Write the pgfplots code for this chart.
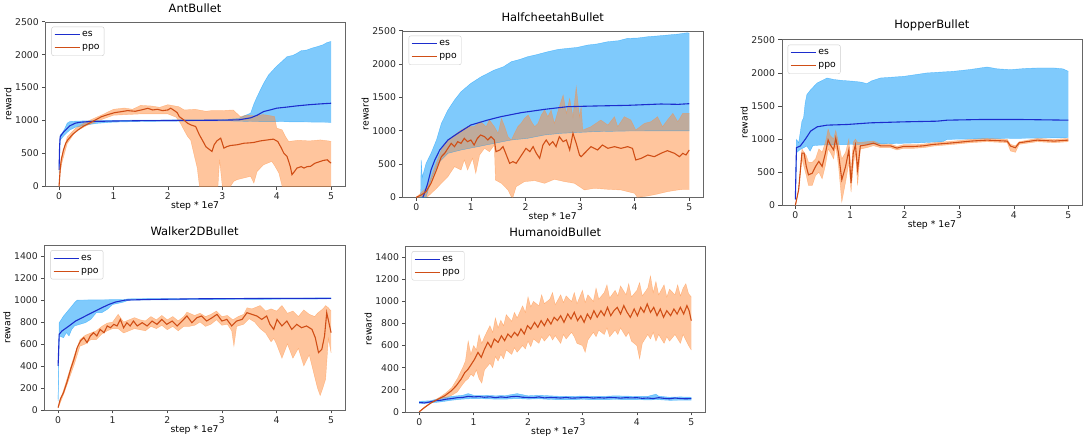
\documentclass[border=0pt]{standalone}
\usepackage{pgfplots}
\pgfplotsset{compat=1.18}
\usepgfplotslibrary{fillbetween}
\usepackage{fontspec}
\setmainfont{DejaVu Sans}
\definecolor{esline}{RGB}{28,45,205}
\definecolor{ppoline}{RGB}{208,78,22}
\definecolor{esfill}{RGB}{0,150,250}
\definecolor{ppofill}{RGB}{255,140,60}
\pgfplotsset{
  myax/.style={
    scale only axis,
    xmin=-0.25, xmax=5.25, ymin=0,
    xtick={0,1,2,3,4,5},
    tick align=outside, tick pos=left,
    major tick length=3.5pt,
    axis line style={black!60},
    every tick/.style={black!70, line width=0.5pt},
    tick label style={font=\fontsize{9.3}{10}\selectfont, text=black!85},
    xticklabel style={inner sep=1pt, yshift=-2pt},
    yticklabel style={inner sep=1pt, xshift=-2pt},
    /pgf/number format/assume math mode=true,
    /pgf/number format/1000 sep={},
    scaled y ticks=false,
    xlabel={step * 1e7}, ylabel={reward},
    xlabel style={font=\fontsize{9.3}{10}\selectfont, at={(axis description cs:0.5,0)}, anchor=center, yshift=-20pt},
    ylabel style={font=\fontsize{9.3}{10}\selectfont, at={(axis description cs:-0.125,0.5)}, anchor=center, rotate=0},
    title style={font=\fontsize{11.5}{13}\selectfont, at={(axis description cs:0.5,1)}, anchor=center, yshift=8pt},
    legend style={at={(0.02,0.97)}, anchor=north west, draw=black!20, rounded corners=2pt,
      font=\fontsize{9.3}{10}\selectfont, row sep=2.5pt, inner sep=2.5pt},
    legend cell align=left,
    legend image code/.code={\draw[#1] (0pt,0pt) -- (20pt,0pt); \path (0pt,0pt) -- (25pt,0pt);},
  },
  esband/.style={draw=esfill, draw opacity=0.5, line width=0.4pt, forget plot},
  ppoband/.style={draw=ppofill, draw opacity=0.5, line width=0.4pt, forget plot},
  esfillst/.style={fill=esfill, fill opacity=0.5, draw=none, forget plot},
  ppofillst/.style={fill=ppofill, fill opacity=0.5, draw=none, forget plot},
  esmean/.style={esline, line width=1.1pt},
  ppomean/.style={ppoline, line width=1.1pt},
}
\newcommand{\oneseven}{\node[anchor=east, font=\fontsize{9.3}{10}\selectfont, inner sep=0pt] at (rel axis cs:1,0) [yshift=-20pt] {1e7};}
\newcommand{\mylegend}{\addlegendimage{esmean}\addlegendentry{es}\addlegendimage{ppomean}\addlegendentry{ppo}}
\begin{document}
\begin{tikzpicture}
\path (0,0) rectangle (1084pt,433pt);

% ---------------- AntBullet
\begin{axis}[myax, at={(43pt,253pt)}, anchor=south west, width=300pt, height=165pt, ymax=2500, title={AntBullet}]
\mylegend
\addplot[esband, name path=aEU] coordinates {(0,300) (0.02,780) (0.05,800) (0.1,870) (0.15,960) (0.2,985) (0.3,990) (0.5,995) (1.0,1003) (2.0,1008) (3.0,1012) (3.3,1030) (3.4,1070) (3.52,1111) (3.58,1250) (3.64,1364) (3.76,1566) (3.85,1692) (3.99,1818) (4.1,1900) (4.19,1970) (4.3,1990) (4.37,2020) (4.45,2060) (4.55,2070) (4.65,2100) (4.74,2121) (4.85,2150) (4.92,2182) (4.98,2197) (5.0,2200)};
\addplot[esband, name path=aEL] coordinates {(0,200) (0.02,700) (0.05,730) (0.1,780) (0.2,857) (0.3,897) (0.5,932) (0.7,957) (1.0,975) (1.5,985) (2.0,990) (3.0,995) (3.3,990) (3.5,985) (4.0,982) (4.5,978) (5.0,972)};
\addplot[esfillst] fill between[of=aEU and aEL];
\addplot[ppoband, name path=aPU] coordinates {(0,0) (0.02,300) (0.05,450) (0.15,750) (0.3,880) (0.5,980) (0.8,1090) (1.0,1170) (1.2,1190) (1.35,1170) (1.5,1230) (1.7,1220) (1.85,1200) (2.0,1240) (2.2,1210) (2.3,1160) (2.5,1170) (2.7,1140) (2.8,1150) (3.0,1150) (3.2,1160) (3.33,1060) (3.45,1080) (3.6,1070) (3.75,1090) (3.9,1070) (3.96,1060) (4.0,884) (4.1,858) (4.16,757) (4.22,682) (4.4,700) (4.6,690) (4.8,705) (4.95,690) (5.0,682)};
\addplot[ppoband, name path=aPL] coordinates {(0,0) (0.02,200) (0.05,350) (0.15,650) (0.3,830) (0.5,920) (0.8,1020) (1.0,1080) (1.5,1100) (2.0,1100) (2.15,1050) (2.23,960) (2.3,850) (2.36,760) (2.42,700) (2.48,485) (2.54,278) (2.58,0) (2.92,0) (2.95,404) (3.0,0) (3.15,0) (3.21,76) (3.27,101) (3.39,126) (3.52,152) (3.58,50) (3.64,227) (3.76,328) (3.91,379) (3.97,303) (4.04,202) (4.10,0) (5.0,0)};
\addplot[ppofillst] fill between[of=aPU and aPL];
\addplot[esmean, forget plot] coordinates {(0,250) (0.01,600) (0.02,750) (0.05,790) (0.1,840) (0.15,880) (0.2,920) (0.3,960) (0.4,975) (0.6,985) (1.0,992) (1.5,997) (2.0,1000) (2.5,1002) (3.0,1005) (3.3,1010) (3.52,1040) (3.64,1080) (3.76,1136) (3.9,1165) (4.0,1187) (4.2,1205) (4.37,1222) (4.6,1240) (4.8,1252) (5.0,1262)};
\addplot[ppomean, forget plot] coordinates {(0,0) (0.02,250) (0.04,400) (0.08,550) (0.12,650) (0.16,705) (0.25,790) (0.35,857) (0.45,915) (0.53,948) (0.65,1000) (0.78,1058) (0.9,1090) (1.02,1119) (1.15,1135) (1.26,1150) (1.4,1140) (1.51,1160) (1.63,1185) (1.72,1160) (1.81,1170) (1.9,1150) (2.0,1160) (2.05,1187) (2.12,1150) (2.17,1120) (2.21,1058) (2.29,1010) (2.36,960) (2.42,934) (2.51,909) (2.58,780) (2.63,707) (2.7,600) (2.81,530) (2.85,630) (2.90,690) (2.97,732) (3.03,580) (3.09,605) (3.15,620) (3.27,631) (3.40,655) (3.5,660) (3.58,667) (3.7,690) (3.83,705) (3.94,717) (4.02,680) (4.07,605) (4.13,505) (4.19,454) (4.25,300) (4.28,177) (4.34,240) (4.37,277) (4.45,300) (4.50,277) (4.56,300) (4.62,303) (4.70,350) (4.80,378) (4.86,394) (4.93,403) (4.97,370) (5.0,353)};
\oneseven
\end{axis}

% ---------------- HalfcheetahBullet
\begin{axis}[myax, at={(401pt,242pt)}, anchor=south west, width=301pt, height=167pt, ymax=2500, title={HalfcheetahBullet}]
\mylegend
\addplot[esband, name path=hEU] coordinates {(0.08,0) (0.09,560) (0.11,300) (0.18,510) (0.27,660) (0.37,860) (0.46,1110) (0.58,1310) (0.70,1460) (0.82,1585) (1.0,1710) (1.19,1810) (1.43,1910) (1.6,1960) (1.74,2035) (1.9,2070) (2.04,2110) (2.2,2140) (2.41,2185) (2.6,2220) (2.77,2235) (2.95,2250) (3.14,2285) (3.3,2300) (3.51,2335) (3.7,2350) (3.87,2385) (4.05,2390) (4.24,2410) (4.4,2420) (4.6,2435) (4.8,2450) (4.97,2470) (5.0,2460)};
\addplot[esband, name path=hEL] coordinates {(0.08,0) (0.18,0) (0.27,260) (0.4,510) (0.58,660) (0.82,710) (1.13,760) (1.43,810) (1.74,860) (2.04,885) (2.35,935) (2.65,960) (3.26,985) (3.87,995) (5.0,998)};
\addplot[esfillst] fill between[of=hEU and hEL];
\addplot[ppoband, name path=hPU] coordinates {(0,0) (0.21,160) (0.34,460) (0.46,710) (0.58,860) (0.70,935) (0.82,1010) (0.94,1060) (1.06,1060) (1.18,1135) (1.28,1060) (1.34,1160) (1.43,1060) (1.5,960) (1.56,1185) (1.62,1060) (1.68,910) (1.74,860) (1.8,960) (1.86,1060) (1.92,1110) (1.98,1185) (2.05,1235) (2.11,1135) (2.17,1060) (2.23,1110) (2.29,1235) (2.35,1310) (2.41,1210) (2.47,1310) (2.53,1110) (2.62,1360) (2.69,1535) (2.75,1260) (2.81,1485) (2.87,1210) (2.93,1660) (2.99,1210) (3.02,1360) (3.05,1010) (3.2,1060) (3.38,1160) (3.51,1085) (3.63,1210) (3.69,1060) (3.81,1210) (3.93,1160) (4.02,1010) (4.18,1110) (4.3,1135) (4.42,1210) (4.51,1060) (4.6,1160) (4.7,1260) (4.79,1135) (4.88,1260) (5.0,1260)};
\addplot[ppoband, name path=hPL] coordinates {(0,0) (0.21,10) (0.34,110) (0.46,210) (0.58,310) (0.7,460) (0.82,410) (0.88,560) (0.94,410) (1.03,585) (1.09,360) (1.16,635) (1.25,735) (1.34,685) (1.43,785) (1.45,260) (1.56,210) (1.68,110) (1.74,10) (1.77,0) (1.83,160) (1.98,235) (2.17,250) (2.35,210) (2.53,270) (2.72,235) (2.9,210) (2.99,160) (3.08,110) (3.26,135) (3.51,120) (3.75,110) (4.0,60) (4.05,0) (4.24,20) (4.42,50) (4.6,85) (4.79,110) (4.91,120) (5.0,120)};
\addplot[ppofillst] fill between[of=hPU and hPL];
\addplot[esmean, forget plot] coordinates {(0.12,0) (0.15,60) (0.21,210) (0.27,410) (0.34,560) (0.43,710) (0.58,860) (0.76,960) (1.0,1085) (1.31,1160) (1.55,1210) (1.92,1270) (2.35,1320) (2.77,1360) (3.26,1370) (3.87,1380) (4.48,1400) (4.8,1395) (5.0,1405)};
\addplot[ppomean, forget plot] coordinates {(0,0) (0.09,35) (0.18,85) (0.27,210) (0.37,410) (0.46,610) (0.52,660) (0.58,735) (0.64,810) (0.70,760) (0.76,835) (0.82,810) (0.88,885) (0.94,835) (1.0,860) (1.06,785) (1.12,885) (1.18,935) (1.25,910) (1.31,860) (1.37,910) (1.43,860) (1.46,685) (1.53,710) (1.59,760) (1.65,635) (1.71,510) (1.77,535) (1.83,510) (1.89,585) (1.95,660) (2.01,735) (2.08,685) (2.14,760) (2.2,660) (2.26,585) (2.32,785) (2.38,860) (2.44,785) (2.5,835) (2.56,760) (2.62,910) (2.69,835) (2.75,860) (2.81,710) (2.87,960) (2.93,810) (2.99,635) (3.02,610) (3.08,660) (3.2,760) (3.32,710) (3.41,785) (3.51,735) (3.63,760) (3.75,735) (3.87,760) (3.96,735) (4.02,560) (4.12,585) (4.24,635) (4.36,610) (4.48,660) (4.6,700) (4.73,660) (4.82,610) (4.88,660) (4.94,635) (5.0,710)};
\oneseven
\end{axis}

% ---------------- HopperBullet
\begin{axis}[myax, at={(781pt,234pt)}, anchor=south west, width=301pt, height=166pt, ymax=2500, title={HopperBullet}]
\mylegend
\addplot[esband, name path=pEU] coordinates {(0,100) (0.02,995) (0.06,945) (0.12,1270) (0.15,1320) (0.18,1546) (0.21,1670) (0.28,1745) (0.4,1847) (0.58,1922) (0.7,1900) (0.83,1887) (1.07,1872) (1.2,1860) (1.31,1837) (1.4,1880) (1.56,1922) (1.99,1947) (2.41,1998) (2.9,2023) (3.2,2050) (3.51,2088) (3.7,2060) (3.94,2048) (4.2,2065) (4.43,2073) (4.74,2073) (4.9,2060) (5.0,2023)};
\addplot[esband, name path=pEL] coordinates {(0,80) (0.02,793) (0.09,843) (0.21,894) (0.27,818) (0.32,900) (0.46,909) (1.07,919) (1.68,929) (2.29,944) (2.7,960) (2.78,995) (3.51,1005) (5.0,1020)};
\addplot[esfillst] fill between[of=pEU and pEL];
\addplot[ppoband, name path=pPU] coordinates {(0,0) (0.06,235) (0.12,850) (0.2,750) (0.24,650) (0.31,650) (0.37,700) (0.43,850) (0.49,800) (0.55,950) (0.6,1150) (0.64,1050) (0.7,1000) (0.74,1130) (0.79,950) (0.85,700) (0.92,800) (0.98,1000) (1.02,500) (1.06,950) (1.1,1000) (1.14,950) (1.19,950) (1.31,960) (1.43,970) (1.56,925) (1.74,925) (1.86,890) (1.98,915) (2.17,915) (2.35,925) (2.54,945) (2.9,970) (3.21,995) (3.51,1010) (3.88,995) (3.94,920) (4.03,900) (4.1,960) (4.43,1010) (4.74,995) (5.0,1010)};
\addplot[ppoband, name path=pPL] coordinates {(0,0) (0.06,235) (0.12,700) (0.2,450) (0.24,300) (0.31,300) (0.37,450) (0.43,500) (0.49,400) (0.55,600) (0.6,850) (0.64,800) (0.7,700) (0.74,900) (0.79,600) (0.85,50) (0.92,350) (0.98,650) (1.02,200) (1.06,600) (1.1,800) (1.14,300) (1.19,850) (1.31,870) (1.43,900) (1.56,870) (1.74,870) (1.86,835) (1.98,860) (2.17,860) (2.35,870) (2.54,895) (2.9,920) (3.21,945) (3.51,960) (3.88,945) (3.94,820) (4.03,800) (4.1,920) (4.43,960) (4.74,945) (5.0,960)};
\addplot[ppofillst] fill between[of=pPU and pPL];
\addplot[esmean, forget plot] coordinates {(0,90) (0.02,870) (0.09,895) (0.18,995) (0.28,1120) (0.4,1185) (0.58,1210) (0.95,1220) (1.38,1245) (1.99,1260) (2.6,1270) (2.78,1285) (3.39,1295) (4.13,1295) (5.0,1285)};
\addplot[ppomean, forget plot] coordinates {(0,0) (0.06,235) (0.12,787) (0.16,787) (0.2,587) (0.24,460) (0.31,485) (0.37,587) (0.43,662) (0.49,587) (0.55,787) (0.6,988) (0.64,913) (0.7,838) (0.74,1014) (0.79,787) (0.85,385) (0.92,587) (0.98,838) (1.02,335) (1.06,787) (1.1,913) (1.14,536) (1.19,898) (1.31,913) (1.43,938) (1.56,898) (1.74,898) (1.86,863) (1.98,888) (2.17,888) (2.35,898) (2.47,913) (2.54,920) (2.9,944) (3.21,969) (3.51,984) (3.88,969) (3.94,894) (4.03,869) (4.1,944) (4.43,984) (4.74,969) (5.0,984)};
\oneseven
\end{axis}

% ---------------- Walker2DBullet
\begin{axis}[myax, at={(42pt,29pt)}, anchor=south west, width=301pt, height=165pt, ymax=1500, ytick={0,200,400,600,800,1000,1200,1400}, title={Walker2DBullet}]
\mylegend
\addplot[esband, name path=wEU] coordinates {(0,100) (0.02,794) (0.1,855) (0.2,915) (0.3,976) (0.35,1000) (1.2,1005) (1.3,1012) (5.0,1020)};
\addplot[esband, name path=wEL] coordinates {(0,80) (0.02,673) (0.1,657) (0.15,703) (0.2,673) (0.25,733) (0.3,764) (0.4,779) (0.5,794) (0.6,824) (0.7,885) (0.8,885) (0.9,915) (1.0,960) (1.1,970) (1.2,982) (1.3,1000) (5.0,1010)};
\addplot[esfillst] fill between[of=wEU and wEL];
\addplot[ppoband, name path=wPU] coordinates {(0,25) (0.1,180) (0.2,340) (0.3,500) (0.4,640) (0.5,680) (0.6,700) (0.7,720) (0.8,760) (0.9,790) (1.0,800) (1.1,870) (1.2,800) (1.3,820) (1.4,840) (1.5,820) (1.6,810) (1.7,850) (1.8,820) (1.9,860) (2.0,820) (2.1,850) (2.2,810) (2.3,850) (2.36,890) (2.5,860) (2.6,880) (2.7,850) (2.8,870) (2.9,900) (3.0,850) (3.1,860) (3.2,820) (3.3,850) (3.4,870) (3.46,930) (3.55,920) (3.7,950) (3.8,900) (3.9,920) (4.0,900) (4.1,950) (4.2,880) (4.3,900) (4.4,850) (4.5,910) (4.6,870) (4.7,850) (4.75,880) (4.8,900) (4.85,920) (4.9,950) (4.95,930) (5.0,900)};
\addplot[ppoband, name path=wPL] coordinates {(0,15) (0.1,140) (0.2,280) (0.3,420) (0.4,580) (0.5,600) (0.6,640) (0.7,640) (0.8,690) (0.9,720) (1.0,740) (1.1,740) (1.2,700) (1.3,720) (1.4,740) (1.5,730) (1.6,720) (1.7,760) (1.8,740) (1.9,770) (2.0,730) (2.1,760) (2.2,720) (2.3,760) (2.4,760) (2.5,770) (2.6,800) (2.7,760) (2.8,780) (2.9,820) (3.0,770) (3.1,780) (3.18,720) (3.22,580) (3.27,760) (3.4,780) (3.5,830) (3.6,800) (3.7,740) (3.8,700) (3.9,620) (3.95,650) (4.0,600) (4.1,470) (4.2,600) (4.3,470) (4.4,560) (4.5,400) (4.6,500) (4.7,300) (4.75,200) (4.8,130) (4.85,200) (4.9,280) (4.95,650) (5.0,520)};
\addplot[ppofillst] fill between[of=wPU and wPL];
\addplot[esmean, forget plot] coordinates {(0,400) (0.02,688) (0.07,718) (0.2,764) (0.32,809) (0.44,839) (0.56,870) (0.68,900) (0.8,930) (0.93,960) (1.05,982) (1.23,1000) (1.72,1006) (2.63,1012) (3.85,1015) (5.0,1015)};
\addplot[ppomean, forget plot] coordinates {(0,20) (0.04,97) (0.1,158) (0.16,248) (0.23,370) (0.29,460) (0.35,567) (0.41,627) (0.47,658) (0.53,612) (0.59,673) (0.65,703) (0.71,673) (0.77,733) (0.84,703) (0.9,764) (0.96,748) (1.02,779) (1.08,764) (1.14,824) (1.2,748) (1.26,794) (1.32,764) (1.38,809) (1.45,764) (1.54,794) (1.63,764) (1.72,809) (1.81,779) (1.9,824) (1.99,779) (2.09,809) (2.18,764) (2.27,809) (2.36,855) (2.45,794) (2.54,839) (2.63,855) (2.72,809) (2.82,839) (2.91,870) (3.0,809) (3.09,824) (3.18,764) (3.27,809) (3.37,824) (3.46,885) (3.55,870) (3.64,855) (3.73,824) (3.82,855) (3.88,779) (3.95,733) (4.01,824) (4.1,764) (4.19,809) (4.28,733) (4.37,779) (4.46,748) (4.55,764) (4.65,733) (4.71,658) (4.77,521) (4.83,551) (4.88,673) (4.92,885) (4.96,794) (5.0,703)};
\oneseven
\end{axis}

% ---------------- HumanoidBullet
\begin{axis}[myax, at={(404pt,27pt)}, anchor=south west, width=300pt, height=166pt, ymax=1500, ytick={0,200,400,600,800,1000,1200,1400}, title={HumanoidBullet}]
\mylegend
\addplot[esband, name path=uEU] coordinates {(0,95) (0.2,100) (0.4,125) (0.6,140) (0.8,150) (0.9,165) (1.0,150) (1.2,150) (1.4,145) (1.6,148) (1.8,165) (2.0,145) (2.2,150) (2.4,145) (2.6,140) (2.8,140) (3.0,142) (3.2,140) (3.4,140) (3.6,145) (3.8,142) (4.0,140) (4.2,140) (4.35,160) (4.4,142) (4.6,132) (4.8,135) (5.0,132)};
\addplot[esband, name path=uEL] coordinates {(0,75) (0.2,80) (0.4,90) (0.6,105) (0.8,115) (1.0,120) (1.2,118) (1.4,115) (1.6,115) (1.8,120) (2.0,115) (2.2,118) (2.4,112) (2.6,110) (2.8,110) (3.0,112) (3.2,110) (3.4,110) (3.6,112) (3.8,110) (4.0,110) (4.2,108) (4.4,110) (4.6,104) (4.8,105) (5.0,106)};
\addplot[esfillst] fill between[of=uEU and uEL];
\addplot[ppoband, name path=uPU] coordinates {(0,0) (0.1,45) (0.2,80) (0.3,110) (0.4,140) (0.5,175) (0.6,220) (0.7,300) (0.8,400) (0.85,460) (0.9,640) (0.95,520) (1.0,600) (1.05,560) (1.1,700) (1.15,620) (1.2,680) (1.3,780) (1.35,720) (1.4,850) (1.45,760) (1.5,830) (1.55,780) (1.6,880) (1.7,820) (1.75,900) (1.8,850) (1.9,960) (1.95,900) (2.0,1040) (2.05,950) (2.1,1000) (2.2,960) (2.25,1060) (2.3,980) (2.4,1020) (2.45,1080) (2.5,970) (2.6,1060) (2.65,990) (2.7,1050) (2.8,1000) (2.85,1080) (2.9,980) (3.0,1100) (3.05,990) (3.1,1060) (3.2,1000) (3.25,1120) (3.3,1020) (3.4,1080) (3.45,1150) (3.5,1030) (3.6,1100) (3.65,1050) (3.7,1140) (3.8,1060) (3.85,1160) (3.9,1040) (4.0,1100) (4.05,1170) (4.1,1050) (4.2,1120) (4.25,1230) (4.3,1080) (4.35,1180) (4.4,1060) (4.5,1150) (4.55,1040) (4.6,1110) (4.7,1060) (4.75,1150) (4.8,1050) (4.85,1120) (4.9,1160) (4.95,1070) (5.0,1040)};
\addplot[ppoband, name path=uPL] coordinates {(0,0) (0.1,35) (0.2,75) (0.3,100) (0.4,120) (0.5,130) (0.6,150) (0.7,180) (0.8,250) (0.85,280) (0.9,300) (0.95,340) (1.0,320) (1.05,380) (1.1,300) (1.15,260) (1.2,380) (1.3,440) (1.35,400) (1.4,500) (1.45,460) (1.5,520) (1.55,480) (1.6,560) (1.7,520) (1.75,580) (1.8,540) (1.9,600) (1.95,570) (2.0,640) (2.05,590) (2.1,660) (2.2,620) (2.25,680) (2.3,640) (2.4,700) (2.45,650) (2.5,690) (2.6,620) (2.65,700) (2.7,660) (2.8,720) (2.85,680) (2.9,620) (3.0,600) (3.05,540) (3.1,650) (3.2,720) (3.25,680) (3.3,740) (3.4,700) (3.45,760) (3.5,680) (3.6,740) (3.65,700) (3.7,760) (3.8,680) (3.85,720) (3.9,640) (4.0,600) (4.05,480) (4.1,620) (4.2,700) (4.25,660) (4.3,720) (4.35,640) (4.4,700) (4.5,620) (4.55,680) (4.6,640) (4.7,700) (4.75,660) (4.8,620) (4.85,700) (4.9,650) (4.95,600) (5.0,560)};
\addplot[ppofillst] fill between[of=uPU and uPL];
\addplot[esmean, forget plot] coordinates {(0,85) (0.1,80) (0.2,90) (0.3,100) (0.4,105) (0.5,115) (0.6,120) (0.7,128) (0.8,130) (0.9,140) (1.0,135) (1.1,138) (1.2,132) (1.3,136) (1.4,128) (1.5,135) (1.6,130) (1.7,138) (1.8,140) (1.9,132) (2.0,130) (2.1,128) (2.2,135) (2.3,126) (2.4,130) (2.5,128) (2.6,125) (2.7,130) (2.8,124) (2.9,126) (3.0,128) (3.1,130) (3.2,124) (3.3,128) (3.4,125) (3.5,130) (3.6,128) (3.7,124) (3.8,128) (3.9,126) (4.0,128) (4.1,122) (4.2,125) (4.3,120) (4.4,128) (4.5,122) (4.6,118) (4.7,125) (4.8,120) (4.9,118) (5.0,120)};
\addplot[ppomean, forget plot] coordinates {(0,0) (0.1,40) (0.23,85) (0.35,115) (0.47,145) (0.59,190) (0.68,236) (0.77,296) (0.84,357) (0.9,387) (0.96,432) (1.02,478) (1.08,538) (1.14,493) (1.2,568) (1.26,629) (1.32,584) (1.38,659) (1.45,629) (1.51,689) (1.57,644) (1.63,705) (1.69,674) (1.75,720) (1.81,689) (1.87,750) (1.93,705) (1.99,780) (2.05,750) (2.12,810) (2.18,765) (2.24,826) (2.3,780) (2.36,841) (2.42,795) (2.48,856) (2.54,826) (2.6,871) (2.66,810) (2.73,886) (2.79,841) (2.85,901) (2.91,826) (2.97,871) (3.03,810) (3.09,886) (3.15,841) (3.21,916) (3.27,856) (3.34,916) (3.4,871) (3.46,946) (3.52,871) (3.58,916) (3.64,946) (3.7,886) (3.76,962) (3.82,901) (3.88,856) (3.95,931) (4.01,871) (4.07,946) (4.13,901) (4.19,977) (4.25,901) (4.31,946) (4.37,871) (4.43,931) (4.49,856) (4.55,916) (4.62,871) (4.68,931) (4.74,886) (4.8,946) (4.86,886) (4.92,962) (4.96,916) (5.0,826)};
\oneseven
\end{axis}
\end{tikzpicture}
\end{document}
